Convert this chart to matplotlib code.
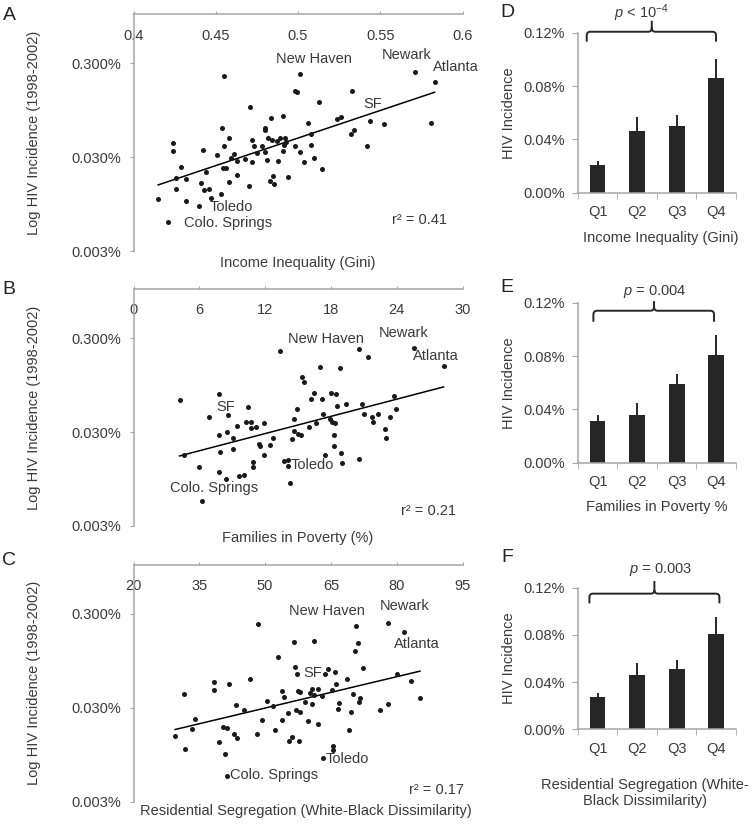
import numpy as np
import matplotlib
matplotlib.use("Agg")
import matplotlib.pyplot as plt
from matplotlib.path import Path
from matplotlib.patches import PathPatch
from matplotlib import transforms
from matplotlib.ticker import NullLocator

plt.rcParams['font.family'] = ['Liberation Sans', 'DejaVu Sans']
plt.rcParams['mathtext.fontset'] = 'custom'
plt.rcParams['mathtext.rm'] = 'Liberation Sans'
plt.rcParams['mathtext.it'] = 'Liberation Sans:italic'
plt.rcParams['font.size'] = 10.5

TXT = '#3a3a3a'
AXC = '#a6a6a6'
DOT = '#1a1a1a'
BAR = '#262626'

# --- scatter data (HIV incidence, %) ---
gini = [0.415, 0.421, 0.424, 0.424, 0.426, 0.426, 0.429, 0.432, 0.432, 0.440,
        0.441, 0.442, 0.443, 0.444, 0.446, 0.447, 0.451, 0.453, 0.454, 0.4545,
        0.455, 0.455, 0.456, 0.458, 0.458, 0.459, 0.461, 0.463, 0.463, 0.468,
        0.470, 0.471, 0.472, 0.472, 0.473, 0.475, 0.478, 0.480, 0.480, 0.480,
        0.481, 0.482, 0.4835, 0.483, 0.484, 0.485, 0.4855, 0.487, 0.488, 0.489,
        0.491, 0.491, 0.492, 0.4915, 0.493, 0.494, 0.498, 0.498, 0.4995, 0.501,
        0.501, 0.5035, 0.506, 0.508, 0.508, 0.510, 0.513, 0.5145, 0.5235, 0.526,
        0.532, 0.533, 0.534, 0.542, 0.544, 0.552, 0.571, 0.581, 0.583]
hiv_gini = [0.0107, 0.00605, 0.0423, 0.035, 0.0179, 0.0137, 0.0233, 0.0103, 0.0177, 0.0091,
            0.0158, 0.0359, 0.0135, 0.0206, 0.0137, 0.0110, 0.0313, 0.0121, 0.0611, 0.0229,
            0.220, 0.0396, 0.0229, 0.0161, 0.0474, 0.0293, 0.0325, 0.0192, 0.0270, 0.0286,
            0.0149, 0.103, 0.0266, 0.0458, 0.0390, 0.0331, 0.0396, 0.0615, 0.0577, 0.0344,
            0.0281, 0.0474, 0.0780, 0.0165, 0.0458, 0.0190, 0.0155, 0.0441, 0.0270, 0.0478,
            0.0350, 0.0813, 0.0478, 0.0405, 0.0430, 0.0184, 0.0390, 0.152, 0.149, 0.229,
            0.0344, 0.0263, 0.0684, 0.0527, 0.0402, 0.0290, 0.117, 0.0223, 0.0768, 0.0800,
            0.0531, 0.150, 0.0586, 0.0390, 0.0731, 0.0674, 0.239, 0.0684, 0.190]

poverty = [4.2, 4.6, 6.0, 6.2, 6.9, 7.8, 7.8, 7.9, 7.8, 8.4,
           8.5, 8.6, 9.05, 9.1, 9.4, 9.65, 10.1, 10.25, 10.46, 10.67,
           10.7, 10.85, 10.94, 11.16, 11.46, 11.55, 11.9, 11.9, 12.4, 12.7,
           13.36, 13.72, 14.05, 14.05, 14.26, 14.47, 14.62, 14.62, 14.95, 15.0,
           15.3, 15.32, 15.53, 16.04, 16.22, 16.43, 16.6, 17.04, 17.19, 17.28,
           17.5, 17.9, 18.0, 18.1, 18.24, 18.27, 18.33, 18.45, 18.54, 18.8,
           18.93, 19.05, 19.35, 20.53, 20.56, 20.83, 20.98, 21.34, 21.73, 21.8,
           22.25, 22.92, 23.04, 23.42, 23.73, 23.97, 25.54, 28.28]
hiv_pov = [0.0661, 0.0173, 0.0128, 0.00555, 0.0433, 0.0761, 0.0276, 0.0182, 0.0114, 0.00953,
           0.030, 0.0454, 0.0198, 0.0258, 0.0345, 0.0102, 0.0105, 0.0382, 0.0555, 0.0331,
           0.0382, 0.0128, 0.0144, 0.0337, 0.0222, 0.0215, 0.0375, 0.0171, 0.0219, 0.0258,
           0.219, 0.0147, 0.0150, 0.0131, 0.0086, 0.0254, 0.0409, 0.0310, 0.0528, 0.0285,
           0.0281, 0.117, 0.102, 0.0337, 0.0667, 0.0780, 0.0375, 0.148, 0.0672, 0.0462,
           0.0171, 0.0409, 0.0787, 0.0384, 0.0276, 0.0215, 0.0372, 0.0761, 0.0569, 0.144,
           0.0181, 0.0140, 0.0599, 0.230, 0.0154, 0.0603, 0.0462, 0.190, 0.0433, 0.0388,
           0.0462, 0.0326, 0.0262, 0.0436, 0.0718, 0.0524, 0.238, 0.150]

segreg = [29.5, 31.4, 31.8, 33.4, 34.0, 38.3, 38.4, 39.4, 40.3, 40.8,
          41.2, 41.4, 41.8, 42.9, 43.4, 43.65, 45.1, 46.6, 48.1, 48.4,
          49.4, 50.4, 51.9, 52.2, 52.9, 53.9, 53.95, 54.2, 55.2, 55.5,
          56.05, 56.5, 56.7, 56.95, 57.25, 57.5, 57.8, 57.9, 58.0, 59.0,
          59.7, 60.2, 60.7, 60.8, 61.1, 61.2, 62.1, 62.15, 63.05, 63.3,
          63.65, 64.4, 65.2, 65.4, 65.5, 66.0, 66.2, 66.6, 66.9, 68.6,
          69.06, 69.5, 69.96, 70.56, 70.64, 71.24, 71.5, 71.6, 72.4, 76.2,
          77.9, 78.0, 80.0, 81.6, 83.3, 85.3]
hiv_seg = [0.0150, 0.0418, 0.0108, 0.0176, 0.0226, 0.0563, 0.0462, 0.0130, 0.0187, 0.0097,
           0.00564, 0.0184, 0.0541, 0.0156, 0.0321, 0.0143, 0.0285, 0.0613, 0.0157, 0.234,
           0.0220, 0.0354, 0.0310, 0.0173, 0.1036, 0.0447, 0.0222, 0.0388, 0.0262, 0.0133,
           0.0148, 0.152, 0.0807, 0.0281, 0.0683, 0.0455, 0.0132, 0.0440, 0.0267, 0.0345,
           0.0219, 0.0433, 0.0470, 0.0331, 0.154, 0.0412, 0.0470, 0.0200, 0.0398, 0.0087,
           0.0683, 0.0780, 0.0462, 0.0116, 0.0107, 0.0725, 0.0532, 0.0288, 0.0340, 0.0613,
           0.0172, 0.0267, 0.0422, 0.119, 0.222, 0.148, 0.0345, 0.0382, 0.0800, 0.0281,
           0.2415, 0.0331, 0.0677, 0.193, 0.0578, 0.0378]

# --- quartile bar data (HIV incidence, %) ---
quartiles = ['Q1', 'Q2', 'Q3', 'Q4']
bar_gini = [0.021, 0.0465, 0.050, 0.0858]
err_gini = [0.003, 0.010, 0.0085, 0.0145]
bar_pov = [0.031, 0.0355, 0.0588, 0.0805]
err_pov = [0.0045, 0.0095, 0.0075, 0.015]
bar_seg = [0.0274, 0.046, 0.0508, 0.0805]
err_seg = [0.0036, 0.0105, 0.0082, 0.015]

fig = plt.figure(figsize=(7.56, 8.26), dpi=100)


def scatter_panel(rect, x, y, xlim, xticks, xticklabels, xlabel, xlabel_pos, labels, r2, r2pos):
    ax = fig.add_axes(rect)
    ax.scatter(x, y, s=13, color=DOT, linewidths=0, zorder=3)
    lx = np.log10(y)
    k, b = np.polyfit(x, lx, 1)
    xs = np.array([min(x), max(x)])
    ax.plot(xs, 10 ** (k * xs + b), color='black', lw=1.1, zorder=2)
    ax.set_yscale('log')
    ax.set_ylim(0.003, 1.0)
    ax.set_xlim(*xlim)
    ax.set_yticks([0.003, 0.03, 0.3])
    ax.set_yticklabels(['0.003%', '0.030%', '0.300%'])
    ax.yaxis.set_minor_locator(NullLocator())
    ax.set_xticks(xticks)
    ax.set_xticklabels(xticklabels)
    ax.xaxis.set_ticks_position('top')
    ax.tick_params(axis='x', direction='out', length=2.5, pad=-23, colors=AXC, labelcolor=TXT)
    ax.tick_params(axis='y', direction='out', length=3, pad=6, colors=AXC, labelcolor=TXT)
    for s in ['right', 'bottom']:
        ax.spines[s].set_visible(False)
    for s in ['left', 'top']:
        ax.spines[s].set_color(AXC)
        ax.spines[s].set_linewidth(1.1)
    ax.text(xlabel_pos[0], xlabel_pos[1], xlabel, transform=ax.transAxes,
            ha='center', va='center', color=TXT)
    ax.text(-0.302, 0.5, 'Log HIV Incidence (1998-2002)', transform=ax.transAxes,
            rotation=90, ha='center', va='center', color=TXT)
    for name, (px, py) in labels.items():
        ax.text(px, py, name, transform=ax.transAxes, ha='center', va='center', color=TXT)
    ax.text(r2pos[0], r2pos[1], 'r² = ' + r2, transform=ax.transAxes, ha='center', va='center', color=TXT)
    return ax


def brace(ax, x0, x1, xm, ylow, yl, ytip):
    rx, r = 0.09, 0.025
    verts = [(x0, ylow), (x0, yl - r), (x0, yl), (x0 + rx, yl), (xm - rx, yl), (xm, yl),
             (xm, yl + r), (xm, ytip),
             (xm, yl + r), (xm, yl), (xm + rx, yl), (x1 - rx, yl), (x1, yl), (x1, yl - r), (x1, ylow)]
    codes = [Path.MOVETO, Path.LINETO, Path.CURVE3, Path.CURVE3, Path.LINETO, Path.CURVE3,
             Path.CURVE3, Path.LINETO,
             Path.MOVETO, Path.CURVE3, Path.CURVE3, Path.LINETO, Path.CURVE3, Path.CURVE3, Path.LINETO]
    tr = transforms.blended_transform_factory(ax.transData, ax.transAxes)
    ax.add_patch(PathPatch(Path(verts, codes), fill=False, lw=1.4, color=BAR,
                           transform=tr, clip_on=False))


def bar_panel(rect, vals, errs, xlabel, xlabel_pos, ptext, ptext_pos, br):
    ax = fig.add_axes(rect)
    pos = np.arange(len(quartiles))
    ax.bar(pos, vals, width=0.4, color=BAR, zorder=2)
    ax.errorbar(pos, vals, yerr=[np.zeros(len(vals)), errs], fmt='none',
                ecolor=BAR, elinewidth=1.4, capsize=0, zorder=3)
    ax.set_xlim(-0.5, 3.5)
    ax.set_ylim(0, 0.12)
    ax.set_yticks([0, 0.04, 0.08, 0.12])
    ax.set_yticklabels(['0.00%', '0.04%', '0.08%', '0.12%'])
    ax.set_xticks(pos)
    ax.set_xticklabels(quartiles)
    ax.set_xticks(np.arange(-0.5, 4.0, 1.0), minor=True)
    ax.tick_params(axis='x', which='major', length=0, pad=9, labelcolor=TXT)
    ax.tick_params(axis='x', which='minor', direction='out', length=4, colors=AXC)
    ax.tick_params(axis='y', direction='out', length=4, pad=5, colors=AXC, labelcolor=TXT)
    for s in ['right', 'top']:
        ax.spines[s].set_visible(False)
    for s in ['left', 'bottom']:
        ax.spines[s].set_color(AXC)
        ax.spines[s].set_linewidth(1.1)
    ax.text(-0.434, 0.5, 'HIV Incidence', transform=ax.transAxes, rotation=90,
            ha='center', va='center', color=TXT)
    ax.text(xlabel_pos[0], xlabel_pos[1], xlabel, transform=ax.transAxes,
            ha='center', va='center', color=TXT, linespacing=1.2)
    tr = transforms.blended_transform_factory(ax.transData, ax.transAxes)
    ax.text(ptext_pos[0], ptext_pos[1], ptext, transform=tr, ha='center', va='center', color=TXT)
    brace(ax, *br)
    return ax


L, W, H = 0.1766, 0.4352, 0.2869
scatter_panel([L, 0.6961, W, H], gini, hiv_gini, (0.4, 0.6),
              [0.4, 0.45, 0.5, 0.55, 0.6], ['0.4', '0.45', '0.5', '0.55', '0.6'],
              'Income Inequality (Gini)', (0.5, -0.05),
              {'New Haven': (0.547, 0.810), 'Newark': (0.829, 0.827), 'Atlanta': (0.979, 0.778),
               'SF': (0.726, 0.620), 'Toledo': (0.296, 0.187), 'Colo. Springs': (0.287, 0.119)},
              '0.41', (0.868, 0.131))
scatter_panel([L, 0.3632, W, H], poverty, hiv_pov, (0, 30),
              [0, 6, 12, 18, 24, 30], ['0', '6', '12', '18', '24', '30'],
              'Families in Poverty (%)', (0.5, -0.05),
              {'New Haven': (0.586, 0.788), 'Newark': (0.822, 0.814), 'Atlanta': (0.920, 0.717),
               'SF': (0.279, 0.502), 'Toledo': (0.543, 0.256), 'Colo. Springs': (0.246, 0.159)},
              '0.21', (0.897, 0.063))
scatter_panel([L, 0.0295, W, H], segreg, hiv_seg, (20, 95),
              [20, 35, 50, 65, 80, 95], ['20', '35', '50', '65', '80', '95'],
              'Residential Segregation (White-Black Dissimilarity)', (0.524, -0.04),
              {'New Haven': (0.589, 0.803), 'Newark': (0.823, 0.824), 'Atlanta': (0.860, 0.667),
               'SF': (0.544, 0.541), 'Toledo': (0.650, 0.180), 'Colo. Springs': (0.428, 0.111)},
              '0.17', (0.922, 0.051))

BL, BW = 0.7642, 0.2094
bar_panel([BL, 0.7667, BW, 0.1937], bar_gini, err_gini, 'Income Inequality (Gini)', (0.525, -0.281),
          r'$p$ < 10$^{-4}$', (1.117, 1.121), (-0.273, 2.995, 1.37, 0.944, 1.006, 1.075))
bar_panel([BL, 0.4398, BW, 0.1937], bar_pov, err_pov, 'Families in Poverty %', (0.5, -0.275),
          r'$p$ = 0.004', (1.45, 1.069), (-0.104, 2.944, 1.428, 0.881, 0.95, 1.01))
bar_panel([BL, 0.1171, BW, 0.1714], bar_seg, err_seg,
          'Residential Segregation (White-\nBlack Dissimilarity)', (0.425, -0.452),
          r'$p$ = 0.003', (1.58, 1.127), (-0.205, 3.079, 1.437, 0.889, 0.958, 1.047))

for letter, (fx, fy) in {'A': (0.012, 0.981), 'B': (0.012, 0.650), 'C': (0.012, 0.322),
                         'D': (0.671, 0.985), 'E': (0.671, 0.652), 'F': (0.671, 0.325)}.items():
    fig.text(fx, fy, letter, ha='center', va='center', fontsize=14, color='#222222')

fig.savefig('out.png', dpi=100)
